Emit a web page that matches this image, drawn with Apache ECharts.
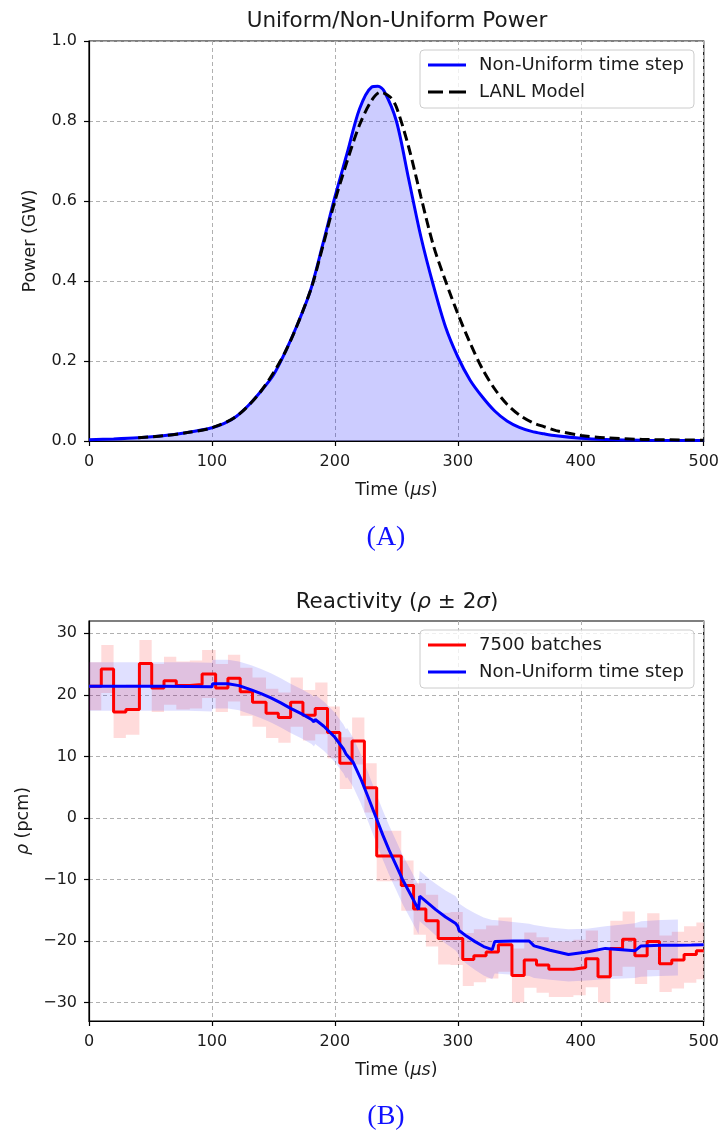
<!DOCTYPE html>
<html>
<head>
<meta charset="utf-8">
<script src="https://cdn.jsdelivr.net/npm/echarts@6/dist/echarts.min.js"></script>
<style>
html,body{margin:0;padding:0;background:#fff;}
#a{position:absolute;left:0;top:0;width:722px;height:565px;}
#b{position:absolute;left:0;top:565px;width:722px;height:566px;}
</style>
</head>
<body>
<div id="a"></div>
<div id="b"></div>
<script>
// ---------- Chart A data ----------
const timeBlueA = [0,20,40,60,80,100,110,120,130,140,150,160,170,180,190,200,210,220,230,235,240,250,260,270,280,290,300,310,320,330,340,350,360,370,380,400,420,450,500];
const powerBlueA = [0.003,0.005,0.008,0.013,0.021,0.033,0.044,0.062,0.090,0.125,0.165,0.225,0.295,0.375,0.49,0.61,0.72,0.83,0.885,0.887,0.875,0.80,0.655,0.51,0.39,0.285,0.21,0.152,0.11,0.075,0.05,0.034,0.024,0.018,0.013,0.007,0.004,0.002,0.001];
const timeLanl = [40,60,80,100,120,140,160,180,190,200,210,220,230,237,245,250,260,270,280,290,300,310,320,330,340,350,360,370,380,400,420,450,500];
const powerLanl = [0.008,0.013,0.021,0.033,0.062,0.125,0.225,0.375,0.485,0.60,0.70,0.79,0.852,0.872,0.86,0.835,0.735,0.61,0.49,0.40,0.318,0.245,0.18,0.13,0.092,0.065,0.047,0.036,0.026,0.014,0.008,0.004,0.002];
const xTicks = [0,100,200,300,400,500];
const yTicksA = [0,0.2,0.4,0.6,0.8,1.0];

// ---------- Chart B data ----------
const binStart = [0,10,20,30,41,51,61,71,82,92,103,113,123,133,144,154,164,174,184,194,204,214,224,234,244,254,264,274,284,294,304,313,323,333,344,354,364,374,384,394,404,414,424,434,444,454,464,474,484,494];
const rhoRed = [21.4,24.2,17.2,17.6,25.1,21.1,22.3,21.5,21.7,23.4,21.1,22.7,20.5,18.8,17.0,16.3,18.8,16.7,17.8,13.9,8.9,12.5,4.9,-6.2,-6.2,-11.0,-14.8,-16.7,-19.6,-19.6,-23.0,-22.4,-21.8,-20.6,-25.6,-23.1,-23.9,-24.6,-24.6,-24.3,-22.9,-25.8,-21.2,-19.7,-22.4,-20.1,-23.7,-23.1,-22.2,-21.6];
const errRed = [3.9,3.9,4.2,4.1,3.8,3.9,3.9,3.9,3.9,3.9,3.9,3.8,3.9,4.0,4.0,4.1,4.0,4.1,4.2,4.2,4.2,3.8,4.0,4.1,4.1,4.1,4.2,4.2,4.2,4.3,4.3,4.3,4.3,4.4,4.4,4.5,4.5,4.5,4.5,4.5,4.6,4.2,4.5,4.5,4.6,4.6,4.6,4.6,4.6,4.6];
const timeEnd = 500;
const timeBlueB = [0,20,40,60,80,100,100.5,113,122,132,140,148,156,164,173,181,183,184,191,200,207,209,210,215,221,227,233,239,244,250,255,262,268,269,276,282,290,298,300,301,307,314,321,328,330,345,358,362,375,390,405,420,444,449,465,479,490,500];
const rhoBlueB = [21.4,21.4,21.4,21.4,21.35,21.3,21.8,21.8,21.5,20.8,20.2,19.5,18.7,17.8,16.9,16.0,15.6,16.0,14.9,13.1,11.2,10.4,10.6,9.0,6.4,3.4,0.3,-2.8,-5.2,-7.8,-10.0,-12.6,-14.9,-12.7,-13.9,-14.9,-16.1,-17.1,-17.6,-18.3,-19.2,-20.1,-20.9,-21.4,-20.1,-20.0,-20.0,-20.8,-21.5,-22.2,-21.8,-21.2,-21.6,-20.8,-20.7,-20.7,-20.65,-20.6];
const bandTimeB = [0,20,40,60,80,100,100.5,113,122,132,140,148,156,164,173,181,183,184,191,200,207,209,210,215,221,227,233,239,244,250,255,262,268,269,276,282,290,298,300,301,307,314,321,328,330,345,358,362,375,390,405,420,444,449,465,479];
const bandLowB = [17.4,17.4,17.4,17.4,17.4,17.3,17.8,17.8,17.5,16.8,16.2,15.5,14.7,13.8,12.9,12.0,11.6,12.0,10.9,9.1,7.2,6.4,6.6,5.0,2.4,-0.6,-3.7,-6.8,-9.2,-11.8,-14.0,-16.6,-18.9,-16.8,-18.0,-19.1,-20.4,-21.5,-22.0,-22.7,-23.7,-24.7,-25.6,-26.2,-25.3,-25.5,-25.7,-26.0,-26.3,-26.6,-26.4,-26.2,-26.0,-25.8,-25.7,-25.6];
const bandHighB = [25.3,25.3,25.3,25.3,25.3,25.2,25.7,25.7,25.4,24.8,24.2,23.5,22.7,21.8,20.9,20.0,19.6,20.0,18.9,17.1,15.2,14.4,14.6,13.0,10.4,7.4,4.3,1.2,-1.2,-3.8,-6.0,-8.6,-10.9,-8.6,-9.8,-10.7,-11.8,-12.7,-13.2,-13.9,-14.7,-15.5,-16.2,-16.6,-16.6,-16.9,-17.2,-17.4,-17.8,-18.1,-18.0,-17.6,-17.1,-16.8,-16.6,-16.5];
const yTicksB = [-30,-20,-10,0,10,20,30];

// ---------- helpers ----------
const FONT = 'DejaVu Sans';
const TXT = '#1a1a1a';
const zip = (xs, ys) => xs.map((x, i) => [x, ys[i]]);
const minus = v => (v < 0 ? '\u2212' + Math.abs(v) : String(v));
const SOLID_ICON = 'path://M0,0h38v3h-38z';
const DASH_ICON = 'path://M0,0h15v3h-15zM21,0h17v3h-17z';

function baseX() {
  return {
    type: 'value', min: 0, max: 500, interval: 100,
    name: '{n|Time (}{i|\u03bcs}{n|)}', nameLocation: 'middle', nameGap: 40,
    nameTextStyle: { rich: {
      n: { fontSize: 17.5, fontFamily: FONT, color: TXT },
      i: { fontSize: 17.5, fontFamily: FONT, color: TXT, fontStyle: 'italic' } } },
    axisLine: { show: true, onZero: false, lineStyle: { color: '#000', width: 1.2 } },
    axisTick: { show: true, inside: false, length: 5, lineStyle: { color: '#000', width: 1.2 } },
    axisLabel: { fontSize: 16, fontFamily: FONT, color: TXT, margin: 12, lineHeight: 18 },
    splitLine: { show: true, lineStyle: { color: '#b0b0b0', type: [4, 3], width: 1 } }
  };
}
function legendCfg(top, items) {
  return {
    orient: 'vertical', left: 420, top: top, padding: [5, 10, 6, 8],
    itemWidth: 38, itemHeight: 3, itemGap: 7, selectedMode: false,
    textStyle: { fontSize: 18, fontFamily: FONT, color: TXT, lineHeight: 20, padding: [0, 0, 0, 8] },
    backgroundColor: 'rgba(255,255,255,0.8)', borderColor: '#cccccc', borderWidth: 1, borderRadius: 4,
    data: items
  };
}
function bandPolygon(getPoints, fill) {
  return function (params, api) {
    const pts = getPoints().map(p => api.coord(p));
    return { type: 'polygon', shape: { points: pts }, style: { fill: fill }, silent: true };
  };
}

// ---------- Chart A ----------
const chartA = echarts.init(document.getElementById('a'), null, { renderer: 'canvas' });
chartA.setOption({
  animation: false,
  grid: { left: 89, top: 41, width: 616, height: 400, show: true, borderColor: '#000', borderWidth: 1.2 },
  xAxis: baseX(),
  yAxis: {
    type: 'value', min: 0, max: 1, interval: 0.2,
    name: 'Power (GW)', nameLocation: 'middle', nameGap: 50,
    nameTextStyle: { fontSize: 17.5, fontFamily: FONT, color: TXT },
    axisLine: { show: true, lineStyle: { color: '#000', width: 1.2 } },
    axisTick: { show: true, length: 5, lineStyle: { color: '#000', width: 1.2 } },
    axisLabel: { fontSize: 16, fontFamily: FONT, color: TXT, margin: 12, formatter: v => v.toFixed(1) },
    splitLine: { show: true, lineStyle: { color: '#b0b0b0', type: [4, 3], width: 1 } }
  },
  legend: legendCfg(50, [
    { name: 'Non-Uniform time step', icon: SOLID_ICON, itemStyle: { color: '#0000ff' } },
    { name: 'LANL Model', icon: DASH_ICON, itemStyle: { color: '#000000' } }
  ]),
  series: [
    { name: 'Non-Uniform time step', type: 'line', data: zip(timeBlueA, powerBlueA), symbol: 'none', smooth: 0.3,
      lineStyle: { color: '#0000ff', width: 3 }, itemStyle: { color: '#0000ff' },
      areaStyle: { color: 'rgba(0,0,255,0.2)', opacity: 1 }, z: 3 },
    { name: 'LANL Model', type: 'line', data: zip(timeLanl, powerLanl), symbol: 'none', smooth: 0.3,
      lineStyle: { color: '#000000', width: 3, type: [10, 5] }, itemStyle: { color: '#000000' }, z: 4 }
  ],
  graphic: [
    { type: 'text', x: 397, y: 21.5, silent: true,
      style: { text: 'Uniform/Non-Uniform Power', fontSize: 21.5, fontFamily: FONT, fill: TXT, align: 'center', verticalAlign: 'middle' } },
    { type: 'text', x: 386, y: 538, silent: true,
      style: { text: '(A)', fontSize: 28, fontFamily: 'Liberation Serif', fill: '#1010ff', align: 'center', verticalAlign: 'middle' } }
  ]
});

// ---------- Chart B ----------
const redLine = zip(binStart, rhoRed).concat([[timeEnd, rhoRed[rhoRed.length - 1]]]);
function redBandPoints() {
  const top = [], bot = [];
  for (let i = 0; i < binStart.length; i++) {
    const t0 = binStart[i], t1 = i < binStart.length - 1 ? binStart[i + 1] : timeEnd;
    const hi = rhoRed[i] + errRed[i], lo = rhoRed[i] - errRed[i];
    top.push([t0, hi], [t1, hi]);
    bot.push([t0, lo], [t1, lo]);
  }
  return top.concat(bot.reverse());
}
function blueBandPoints() {
  return zip(bandTimeB, bandHighB).concat(zip(bandTimeB, bandLowB).reverse());
}

const chartB = echarts.init(document.getElementById('b'), null, { renderer: 'canvas' });
chartB.setOption({
  animation: false,
  grid: { left: 89, top: 56, width: 616, height: 400, show: true, borderColor: '#000', borderWidth: 1.2 },
  xAxis: baseX(),
  yAxis: {
    type: 'value', min: -33, max: 32,
    name: '{i|\u03c1}{n| (pcm)}', nameLocation: 'middle', nameGap: 52,
    nameTextStyle: { rich: {
      n: { fontSize: 17.5, fontFamily: FONT, color: TXT },
      i: { fontSize: 17.5, fontFamily: FONT, color: TXT, fontStyle: 'italic' } } },
    axisLine: { show: true, lineStyle: { color: '#000', width: 1.2 } },
    axisTick: { show: true, length: 5, customValues: yTicksB, lineStyle: { color: '#000', width: 1.2 } },
    axisLabel: { fontSize: 16, fontFamily: FONT, color: TXT, margin: 12, customValues: yTicksB, formatter: minus },
    splitLine: { show: true, lineStyle: { color: '#b0b0b0', type: [4, 3], width: 1 } }
  },
  legend: legendCfg(65, [
    { name: '7500 batches', icon: SOLID_ICON, itemStyle: { color: '#ff0000' } },
    { name: 'Non-Uniform time step', icon: SOLID_ICON, itemStyle: { color: '#0000ff' } }
  ]),
  series: [
    { type: 'custom', data: [[0, 0]], renderItem: bandPolygon(redBandPoints, 'rgba(255,0,0,0.14)'), z: 1, silent: true },
    { type: 'custom', data: [[0, 0]], renderItem: bandPolygon(blueBandPoints, 'rgba(0,0,255,0.12)'), z: 1, silent: true },
    { name: '7500 batches', type: 'line', data: redLine, step: 'end', symbol: 'none',
      lineStyle: { color: '#ff0000', width: 3 }, itemStyle: { color: '#ff0000' }, z: 3 },
    { name: 'Non-Uniform time step', type: 'line', data: zip(timeBlueB, rhoBlueB), symbol: 'none',
      lineStyle: { color: '#0000ff', width: 3 }, itemStyle: { color: '#0000ff' }, z: 4 }
  ],
  graphic: [
    { type: 'text', x: 397, y: 37.5, silent: true,
      style: { text: 'Reactivity ({i|\u03c1} \u00b1 2{i|\u03c3})', fontSize: 21.5, fontFamily: FONT, fill: TXT,
        align: 'center', verticalAlign: 'middle',
        rich: { i: { fontSize: 21.5, fontFamily: FONT, fill: TXT, fontStyle: 'italic' } } } },
    { type: 'text', x: 386, y: 551.5, silent: true,
      style: { text: '(B)', fontSize: 28, fontFamily: 'Liberation Serif', fill: '#1010ff', align: 'center', verticalAlign: 'middle' } }
  ]
});
</script>
</body>
</html>
